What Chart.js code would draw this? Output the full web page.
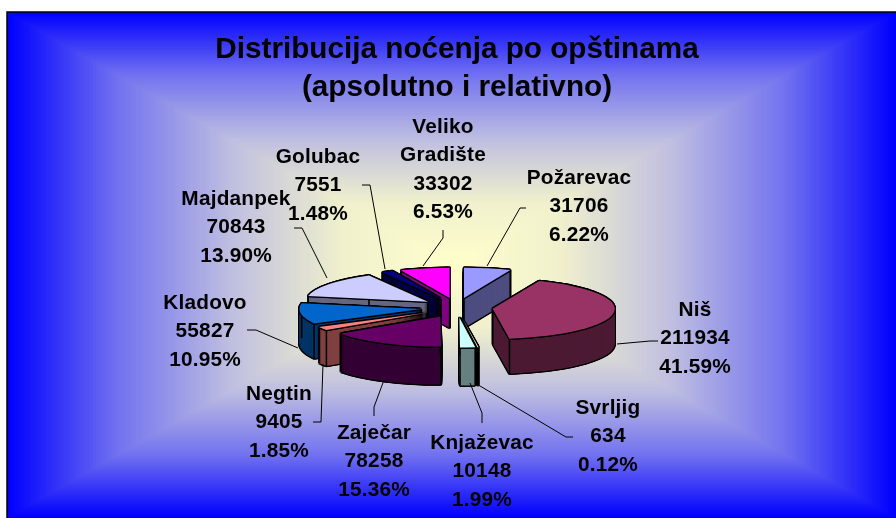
<!DOCTYPE html>
<html>
<head>
<meta charset="utf-8">
<style>
  body { margin: 0; background: #fff; }
  canvas { display: block; }
</style>
<script src="https://cdn.jsdelivr.net/npm/chart.js@4/dist/chart.umd.min.js"></script>
</head>
<body>
<canvas id="pie" width="896" height="518"></canvas>
<script>
const categories = ['Požarevac', 'Niš', 'Svrljig', 'Knjaževac', 'Zaječar', 'Negtin', 'Kladovo', 'Majdanpek', 'Golubac', 'Veliko Gradište'];
const nights = [31706, 211934, 634, 10148, 78258, 9405, 55827, 70843, 7551, 33302];
const shares = ['6.22%', '41.59%', '0.12%', '1.99%', '15.36%', '1.85%', '10.95%', '13.90%', '1.48%', '6.53%'];
const topColors = ['#9999ff', '#993366', '#ffffcc', '#ccffff', '#660066', '#ff8080', '#0066cc', '#ccccff', '#000080', '#ff00ff'];
const wallColors = ['#4d4d80', '#4d1a33', '#000000', '#668080', '#330033', '#804040', '#003366', '#666680', '#000040', '#800080'];

// label centre x and y of first line, then the leader line from the label to the slice
const labelSpots = [[579, 178], [695, 310], [608, 408], [482, 443], [374, 433], [279, 394], [205, 303], [236, 199], [318, 157], [443, 127]];
const leaders = [
  [[526, 208], [520, 208], [487, 266]],
  [[658, 341], [650, 341], [617, 344]],
  [[573, 437], [566, 437], [475, 383]],
  [[482, 423], [482, 413], [470, 383]],
  [[374, 416], [374, 407], [384, 380]],
  [[313, 422], [321, 422], [323, 364]],
  [[247, 330], [256, 330], [298, 348]],
  [[294, 228], [302, 228], [327, 278]],
  [[362, 185], [370, 185], [385, 269]],
  [[443, 230], [443, 238], [423, 266]]
];

const squash = 0.247;
const explodeX = 36;
const explodeY = 40;
const font = 'bold 20.8px "Liberation Sans", Arial, sans-serif';

function backgroundFill(t) {
  // light centre -> blue edge
  const stops = [[0, 255, 255, 204], [0.25, 240, 240, 205], [0.5, 190, 190, 225], [0.75, 115, 115, 240], [1, 0, 0, 255]];
  let i = 0;
  while (i < stops.length - 2 && t > stops[i + 1][0]) i++;
  const a = stops[i], b = stops[i + 1];
  const f = (t - a[0]) / (b[0] - a[0]);
  return 'rgb(' + [1, 2, 3].map(k => Math.round(a[k] + (b[k] - a[k]) * f)).join(',') + ')';
}

const framePlugin = {
  id: 'frame',
  beforeDraw(chart) {
    const ctx = chart.ctx;
    const left = 7, top = 12, right = 896, bottom = 518;
    const cx = (left + right) / 2, cy = (top + bottom) / 2;
    const hw = (right - left) / 2, hh = (bottom - top) / 2;
    ctx.save();
    ctx.fillStyle = '#fff';
    ctx.fillRect(0, 0, 896, 518);
    for (let s = 300; s > 0; s--) {
      const t = s / 300;
      ctx.fillStyle = backgroundFill(t);
      ctx.fillRect(cx - hw * t, cy - hh * t, hw * t * 2, hh * t * 2);
    }
    ctx.strokeStyle = '#000';
    ctx.lineWidth = 1.5;
    ctx.beginPath();
    ctx.moveTo(left, bottom);
    ctx.lineTo(left, top);
    ctx.lineTo(right, top);
    ctx.stroke();
    ctx.restore();
  }
};

// paints one arc of the chart, flattened and moved
function paintArc(ctx, el, color, dx, dy) {
  const copy = Object.create(el);
  copy.options = {
    backgroundColor: color, borderColor: color, borderWidth: 0, borderAlign: 'center',
    borderJoinStyle: 'round', borderRadius: 0, borderDash: [], borderDashOffset: 0,
    offset: 0, spacing: 0, circular: true
  };
  ctx.save();
  ctx.translate(el.x + dx, el.y + dy);
  ctx.scale(1, squash);
  ctx.translate(-el.x, -el.y);
  copy.draw(ctx);
  ctx.restore();
}

const around = [[-1.3, 0], [1.3, 0], [0, -1.3], [0, 1.3], [-1, -1], [1, -1], [-1, 1], [1, 1]];

const depthPlugin = {
  id: 'depth',
  beforeDatasetsDraw(chart) {
    const ctx = chart.ctx;
    const arcs = chart.getDatasetMeta(0).data;
    const mid = el => (el.startAngle + el.endAngle) / 2;
    const order = arcs.map((el, i) => i).sort((a, b) => Math.sin(mid(arcs[a])) - Math.sin(mid(arcs[b])));
    order.forEach(i => {
      const el = arcs[i];
      const m = mid(el);
      const ex = Math.cos(m) * explodeX;
      const ey = Math.sin(m) * explodeY * squash;
      const depth = Math.round(34 + Math.sin(m) * 4);
      // black silhouette, then wall, then top
      for (let d = 0; d <= depth; d++) {
        around.forEach(o => paintArc(ctx, el, '#000', ex + o[0], ey + d + o[1]));
      }
      for (let d = depth; d > 0; d--) {
        paintArc(ctx, el, wallColors[i], ex, ey + d);
      }
      ctx.save();
      ctx.strokeStyle = '#000';
      ctx.lineWidth = 1.6;
      [[0, 0], [el.outerRadius, el.startAngle], [el.outerRadius, el.endAngle]].forEach(p => {
        const x = el.x + ex + Math.cos(p[1]) * p[0];
        const y = el.y + ey + Math.sin(p[1]) * p[0] * squash;
        ctx.beginPath();
        ctx.moveTo(x, y);
        ctx.lineTo(x, y + depth);
        ctx.stroke();
      });
      ctx.restore();
      around.forEach(o => paintArc(ctx, el, '#000', ex + o[0], ey + o[1]));
      paintArc(ctx, el, topColors[i], ex, ey);
    });
    return false;
  }
};

const labelPlugin = {
  id: 'sliceLabels',
  afterDraw(chart) {
    const ctx = chart.ctx;
    ctx.save();
    ctx.strokeStyle = '#000';
    ctx.lineWidth = 1;
    leaders.forEach(line => {
      ctx.beginPath();
      line.forEach((p, n) => n ? ctx.lineTo(p[0], p[1]) : ctx.moveTo(p[0], p[1]));
      ctx.stroke();
    });
    ctx.fillStyle = '#000';
    ctx.font = font;
    ctx.letterSpacing = '0.2px';
    ctx.textAlign = 'center';
    ctx.textBaseline = 'middle';
    categories.forEach((name, i) => {
      const lines = name.split(' ').concat([String(nights[i]), shares[i]]);
      lines.forEach((text, n) => ctx.fillText(text, labelSpots[i][0], labelSpots[i][1] + n * 28.4));
    });
    ctx.restore();
  }
};

new Chart(document.getElementById('pie'), {
  type: 'pie',
  data: {
    labels: categories,
    datasets: [{ data: nights, backgroundColor: topColors }]
  },
  options: {
    responsive: false,
    animation: false,
    radius: 122,
    layout: { padding: { left: 18, right: 0, top: 78, bottom: 0 } },
    plugins: {
      legend: { display: false },
      tooltip: { enabled: false },
      title: {
        display: true,
        text: ['Distribucija noćenja po opštinama', '(apsolutno i relativno)'],
        color: '#000',
        font: { family: '"Liberation Sans", Arial, sans-serif', size: 29.7, weight: 'bold', lineHeight: 1.3 },
        padding: { top: -48, bottom: -10 }
      }
    }
  },
  plugins: [framePlugin, depthPlugin, labelPlugin]
});
</script>
</body>
</html>
